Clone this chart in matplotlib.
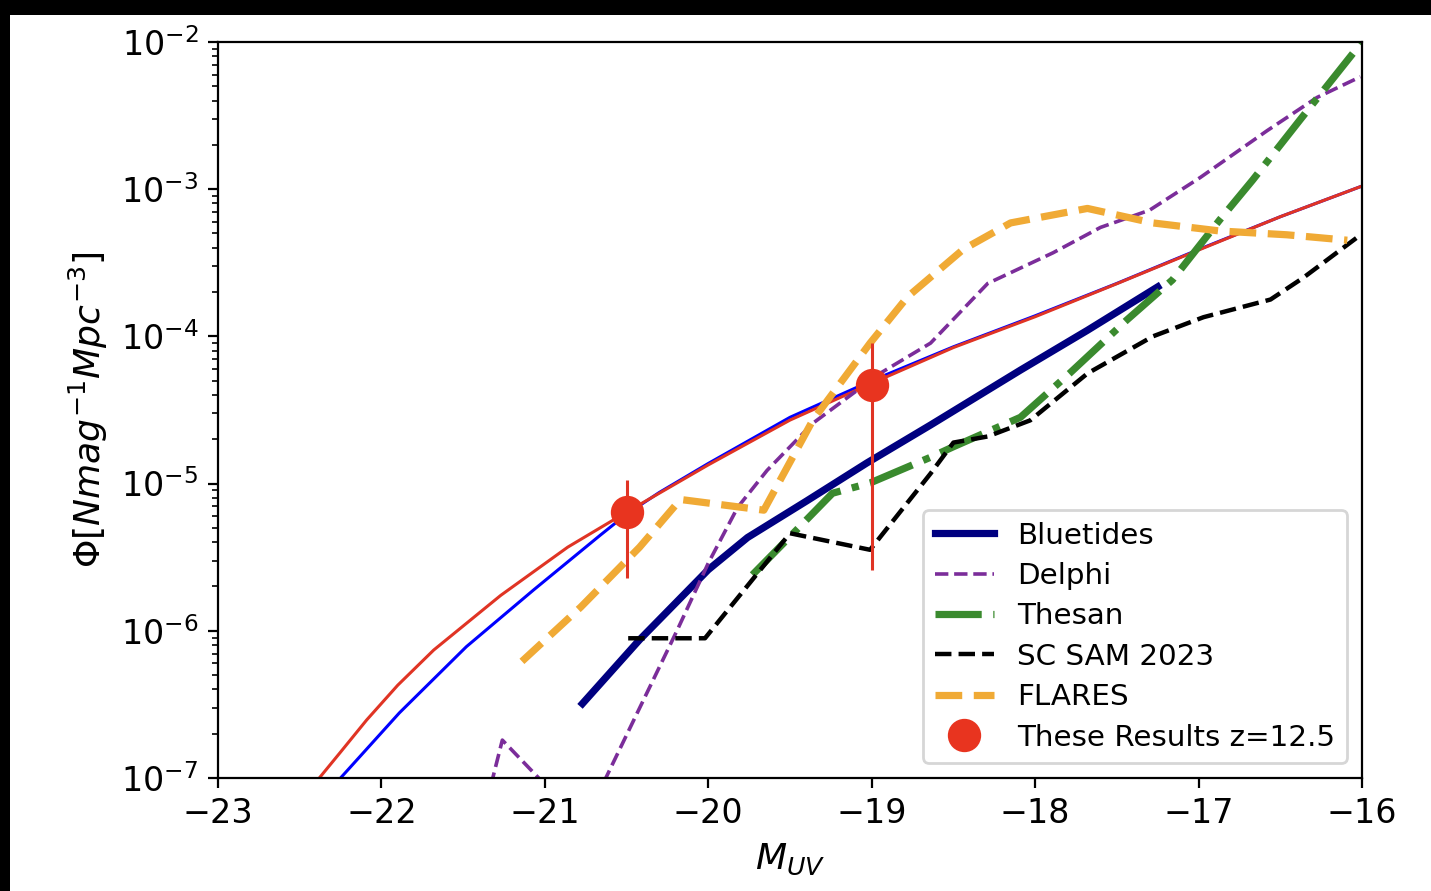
import matplotlib
matplotlib.use("Agg")
import matplotlib.pyplot as plt
from matplotlib.patches import Rectangle
import numpy as np

# fitted Schechter curves
fit_red_m = [-22.38, -22.25, -22.09, -21.9, -21.68, -21.27, -20.86, -20.5, -20.0, -19.5,
             -19.0, -18.5, -18.0, -17.5, -17.0, -16.5, -16.0]
fit_red_phi = [1.0e-7, 1.5e-7, 2.48e-7, 4.27e-7, 7.4e-7, 1.74e-6, 3.7e-6, 6.4e-6, 1.34e-5, 2.7e-5,
               4.8e-5, 8.4e-5, 1.36e-4, 2.28e-4, 3.86e-4, 6.5e-4, 1.05e-3]

fit_blue_m = [-22.25, -21.89, -21.48, -21.07, -20.66, -20.5, -20.3, -20.0, -19.5, -19.0, -18.5,
              -18.0, -17.5, -17.0, -16.5, -16.0]
fit_blue_phi = [1.0e-7, 2.77e-7, 7.8e-7, 1.89e-6, 4.47e-6, 6.2e-6, 8.7e-6, 1.37e-5, 2.82e-5, 5.0e-5, 8.5e-5,
                1.38e-4, 2.29e-4, 3.89e-4, 6.5e-4, 1.05e-3]

# simulations
bluetides_m = [-20.77, -20.42, -20.0, -19.76, -19.4, -19.03, -18.64, -18.09, -17.68, -17.25]
bluetides_phi = [3.2e-7, 8.7e-7, 2.6e-6, 4.3e-6, 7.6e-6, 1.38e-5, 2.5e-5, 5.9e-5, 1.1e-4, 2.17e-4]

delphi_m = [-21.33, -21.26, -21.03, -20.8, -20.19, -20.0, -19.82, -19.64, -19.36, -18.95,
            -18.64, -18.29, -17.89, -17.6, -17.3, -16.99, -16.58, -16.275, -16.01]
delphi_phi = [8.9e-8, 1.81e-7, 9.8e-8, 4.0e-8, 1.01e-6, 2.88e-6, 6.9e-6, 1.23e-5, 2.57e-5, 5.6e-5,
              9.0e-5, 2.29e-4, 3.7e-4, 5.5e-4, 7.2e-4, 1.2e-3, 2.5e-3, 4.2e-3, 5.8e-3]

thesan_m = [-19.73, -19.46, -19.24, -19.01, -18.64, -18.5, -18.09, -17.79, -17.44, -17.16,
            -16.87, -16.67, -16.38, -16.0]
thesan_phi = [2.4e-6, 4.84e-6, 8.6e-6, 1.01e-5, 1.51e-5, 1.78e-5, 2.82e-5, 5.6e-5, 1.29e-4, 2.42e-4,
              6.2e-4, 1.15e-3, 2.95e-3, 1.0e-2]

scsam_m = [-20.49, -20.02, -19.5, -19.01, -18.64, -18.5, -18.29, -18.03, -17.68, -17.28,
           -16.97, -16.56, -16.36, -16.03]
scsam_phi = [8.9e-7, 8.9e-7, 4.6e-6, 3.55e-6, 1.17e-5, 1.9e-5, 2.09e-5, 2.69e-5, 5.6e-5, 1.0e-4,
             1.35e-4, 1.78e-4, 2.5e-4, 4.7e-4]

flares_m = [-21.14, -20.78, -20.42, -20.17, -19.66, -19.36, -19.01, -18.78, -18.44, -18.15,
            -17.68, -17.28, -16.87, -16.46, -16.09]
flares_phi = [6.2e-7, 1.45e-6, 3.7e-6, 7.8e-6, 6.6e-6, 2.7e-5, 9.0e-5, 1.86e-4, 3.9e-4, 5.9e-4,
              7.4e-4, 5.9e-4, 5.2e-4, 4.9e-4, 4.5e-4]

# our points with error range
res_m = [-20.5, -19.0]
res_phi = [6.4e-6, 4.7e-5]
res_lo = [2.3e-6, 2.6e-6]
res_hi = [1.06e-5, 9.0e-5]

fig = plt.figure(figsize=(7.155, 4.455), dpi=200)
fig.patch.set_facecolor("white")
# dark border at top and left of the screenshot
fig.add_artist(Rectangle((0, 1 - 15 / 891), 1, 15 / 891, transform=fig.transFigure,
                         facecolor="black", edgecolor="none"))
fig.add_artist(Rectangle((0, 0), 10 / 1431, 1, transform=fig.transFigure,
                         facecolor="black", edgecolor="none"))
ax = fig.add_axes([0.1523, 0.1268, 0.7995, 0.8261])

ax.plot(fit_blue_m, fit_blue_phi, color="blue", lw=1.1)
ax.plot(fit_red_m, fit_red_phi, color="#e03424", lw=1.1)

ax.plot(bluetides_m, bluetides_phi, color="navy", lw=2.6, label="Bluetides")
ax.plot(delphi_m, delphi_phi, color="#7b2d9a", lw=1.3, ls="--", label="Delphi")
ax.plot(thesan_m, thesan_phi, color="#3a8a2e", lw=2.6, ls="-.", label="Thesan")
ax.plot(scsam_m, scsam_phi, color="black", lw=1.6, ls="--", label="SC SAM 2023")
ax.plot(flares_m, flares_phi, color="#f0aa35", lw=2.6, ls="--", label="FLARES")

phi = np.array(res_phi)
yerr = [phi - np.array(res_lo), np.array(res_hi) - phi]
ax.errorbar(res_m, res_phi, yerr=yerr, fmt="none", ecolor="#e03424", elinewidth=1.1)
ax.plot(res_m, res_phi, "o", color="#e8341f", ms=11, label="These Results z=12.5")

ax.set_yscale("log")
ax.set_xlim(-23, -16)
ax.set_ylim(1e-7, 1e-2)
ax.tick_params(axis="both", which="major", labelsize=12)
ax.set_xlabel(r"$M_{UV}$", fontsize=13)
ax.set_ylabel(r"$\Phi[Nmag^{-1}Mpc^{-3}]$", fontsize=13)
ax.legend(loc="lower right", fontsize=10.6, labelspacing=0.42)

fig.savefig("out.png", dpi=200)
